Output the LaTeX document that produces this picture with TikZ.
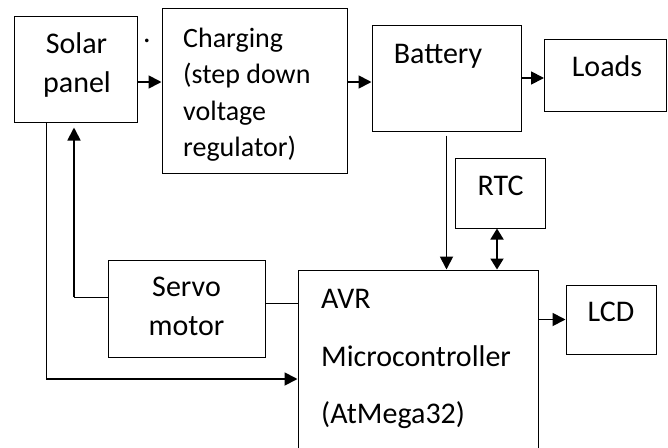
\documentclass[tikz,border=0pt]{standalone}
\usepackage{fontspec}
\setmainfont{Carlito}
\usetikzlibrary{arrows.meta}
\begin{document}
\begin{tikzpicture}[x=1pt,y=-1pt,
  box/.style={draw,line width=1pt,inner sep=0pt,rectangle},
  txt/.style={inner sep=0pt,font=\fontsize{30}{36}\selectfont},
  ctxt/.style={inner sep=0pt,font=\fontsize{28}{34}\selectfont},
  conn/.style={line width=1.8pt},
  arr/.style={conn,-{Triangle[length=13pt,width=13pt]}},
  darr/.style={conn,{Triangle[length=11pt,width=13pt]}-{Triangle[length=11pt,width=13pt]}}]
\path[use as bounding box] (0,0) rectangle (668,447);
\clip (0,0) rectangle (668,447);
% boxes
\node[box,minimum width=123pt,minimum height=106pt] (solar) at (75.5,69) {};
\node[box,minimum width=185pt,minimum height=165pt] (charging) at (254.5,90.5) {};
\node[box,minimum width=149pt,minimum height=106pt] (battery) at (446.5,78) {};
\node[box,minimum width=122pt,minimum height=72pt] (loads) at (605.5,75) {};
\node[box,minimum width=90pt,minimum height=70pt] (rtc) at (500,193) {};
\node[box,minimum width=240pt,minimum height=200pt] (avr) at (418,370) {};
\node[box,minimum width=90pt,minimum height=69pt] (lcd) at (611,319.5) {};
\node[box,minimum width=157pt,minimum height=97pt] (servo) at (186.5,308.5) {};
% texts
\node[txt,anchor=base] (t1) at (76.5,53) {Solar};
\node[txt,anchor=base] (t2) at (77,92) {panel};
\node[txt,anchor=base] (dot) at (147,42) {.};
\node[ctxt,anchor=base west] (c1) at (183,47) {Charging};
\node[ctxt,anchor=base west] (c2) at (183,83.5) {(step down};
\node[ctxt,anchor=base west] (c3) at (183,120) {voltage};
\node[ctxt,anchor=base west] (c4) at (183,156.5) {regulator)};
\node[txt,anchor=base] (tb) at (438,63) {Battery};
\node[txt,anchor=base] (tl) at (607,76) {Loads};
\node[txt,anchor=base] (tr) at (500.5,195) {RTC};
\node[txt,anchor=base west] (a1) at (321,308) {AVR};
\node[txt,anchor=base west] (a2) at (321,366) {Microcontroller};
\node[txt,anchor=base west] (a3) at (321,423) {(AtMega32)};
\node[txt,anchor=base] (tlcd) at (611,321.5) {LCD};
\node[txt,anchor=base] (s1) at (186.5,296) {Servo};
\node[txt,anchor=base] (s2) at (186.5,335) {motor};
% helper coordinates
\coordinate (r1) at (0,82);
\coordinate (r2) at (0,303);
\coordinate (sv) at (74,297);
\coordinate (sa) at (46,379);
\coordinate (rx) at (497,0);
% connectors
\draw[arr] (solar.east |- r1) -- (charging.west |- r1);
\draw[arr] (charging.east |- r1) -- (battery.west |- r1);
\draw[arr] (battery.east) -- (loads.west |- battery.east);
\draw[arr,shorten <=4pt] (battery.south) -- (battery.south |- avr.north);
\draw[darr] (rtc.south -| rx) -- (avr.north -| rx);
\draw[arr] (avr.east |- lcd.west) -- (lcd.west);
\draw[line width=1pt] (servo.east |- r2) -- (avr.west |- r2);
\draw[line width=1pt] (servo.west |- sv) -- (sv);
\draw[arr,shorten >=5pt] (sv) -- (sv |- solar.south);
\draw[line width=1pt] (solar.south -| sa) -- (sa);
\draw[arr] (sa) -- (avr.west |- sa);
\end{tikzpicture}
\end{document}
